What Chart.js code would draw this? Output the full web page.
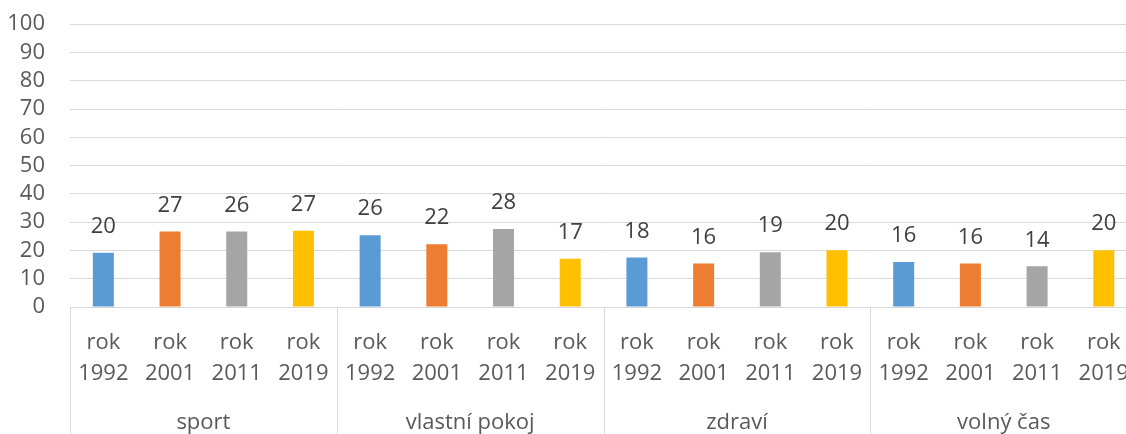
<!DOCTYPE html>
<html>
<head>
<meta charset="utf-8">
<script src="https://cdn.jsdelivr.net/npm/chart.js@4"></script>
<style>
  html, body { margin: 0; padding: 0; background: #fff; overflow: hidden; }
  #wrap { width: 1149px; height: 448px; margin-top: -14px; }
</style>
</head>
<body>
<div id="wrap"><canvas id="chart" width="1149" height="448"></canvas></div>
<script>
const groups = ["sport", "vlastní pokoj", "zdraví", "volný čas"];
const years = ["rok 1992", "rok 2001", "rok 2011", "rok 2019"];
const yearColors = ["#5b9bd5", "#ed7d31", "#a5a5a5", "#ffc000"];

// bar heights, labels as printed above the bars
const sport = [19.2, 26.7, 26.7, 27.0];
const pokoj = [25.4, 22.2, 27.6, 17.1];
const zdravi = [17.5, 15.4, 19.4, 20.1];
const volnyCas = [15.9, 15.4, 14.4, 20.1];
const shownValues = [20, 27, 26, 27, 26, 22, 28, 17, 18, 16, 19, 20, 16, 16, 14, 20];

const yTicks = [0, 10, 20, 30, 40, 50, 60, 70, 80, 90, 100];

const FONT = "'Open Sans', 'Noto Sans', sans-serif";

// flatten into one bar series, one label per bar
const values = [...sport, ...pokoj, ...zdravi, ...volnyCas];
const barLabels = [];
const barColors = [];
groups.forEach(() => {
  years.forEach((y, i) => {
    barLabels.push(y.split(" "));
    barColors.push(yearColors[i]);
  });
});

// value labels above the bars
const valueLabels = {
  id: "valueLabels",
  afterDatasetsDraw(chart) {
    const ctx = chart.ctx;
    const meta = chart.getDatasetMeta(0);
    ctx.save();
    ctx.font = "22px " + FONT;
    ctx.fillStyle = "#404040";
    ctx.textAlign = "center";
    ctx.textBaseline = "middle";
    meta.data.forEach((bar, i) => {
      ctx.fillText(String(shownValues[i]), bar.x, bar.y - 26);
    });
    ctx.restore();
  }
};

// vertical lines between the category groups below the axis
const groupLines = {
  id: "groupLines",
  afterDraw(chart) {
    const x = chart.scales.x;
    const ctx = chart.ctx;
    ctx.save();
    ctx.strokeStyle = "#d9d9d9";
    ctx.lineWidth = 1;
    for (let i = 0; i <= groups.length; i++) {
      const px = Math.round(x.left + i * x.width / groups.length) + 0.5;
      ctx.beginPath();
      ctx.moveTo(px, x.top);
      ctx.lineTo(px, chart.height);
      ctx.stroke();
    }
    ctx.restore();
  }
};

new Chart(document.getElementById("chart"), {
  type: "bar",
  data: {
    labels: barLabels,
    datasets: [{
      data: values,
      backgroundColor: barColors,
      barPercentage: 0.315,
      categoryPercentage: 1
    }]
  },
  options: {
    responsive: false,
    animation: false,
    layout: { padding: { top: 0, right: 2, left: 0, bottom: 0 } },
    plugins: {
      legend: { display: false },
      tooltip: { enabled: false }
    },
    scales: {
      y: {
        min: 0,
        max: 100,
        afterBuildTicks: (scale) => { scale.ticks = yTicks.map(v => ({ value: v })); },
        afterFit: (scale) => { scale.width = 70; },
        border: { display: false },
        grid: { color: "#d9d9d9", lineWidth: 1, drawTicks: false },
        ticks: {
          autoSkip: false,
          padding: 25,
          color: "#595959",
          font: { family: FONT, size: 22 }
        }
      },
      x: {
        weight: 1,
        afterFit: (scale) => { scale.height = 90; },
        border: { display: true, color: "#d9d9d9", width: 1 },
        grid: { display: false, drawTicks: false },
        ticks: {
          autoSkip: false,
          maxRotation: 0,
          padding: 20,
          color: "#595959",
          font: { family: FONT, size: 22, lineHeight: 1.41 }
        }
      },
      g: {
        type: "category",
        position: "bottom",
        weight: 2,
        labels: groups,
        offset: true,
        afterFit: (scale) => { scale.height = 37; },
        border: { display: false },
        grid: { display: false, drawTicks: false },
        ticks: {
          autoSkip: false,
          maxRotation: 0,
          padding: 10,
          color: "#595959",
          font: { family: FONT, size: 22, lineHeight: 1.41 }
        }
      }
    }
  },
  plugins: [valueLabels, groupLines]
});
</script>
</body>
</html>
